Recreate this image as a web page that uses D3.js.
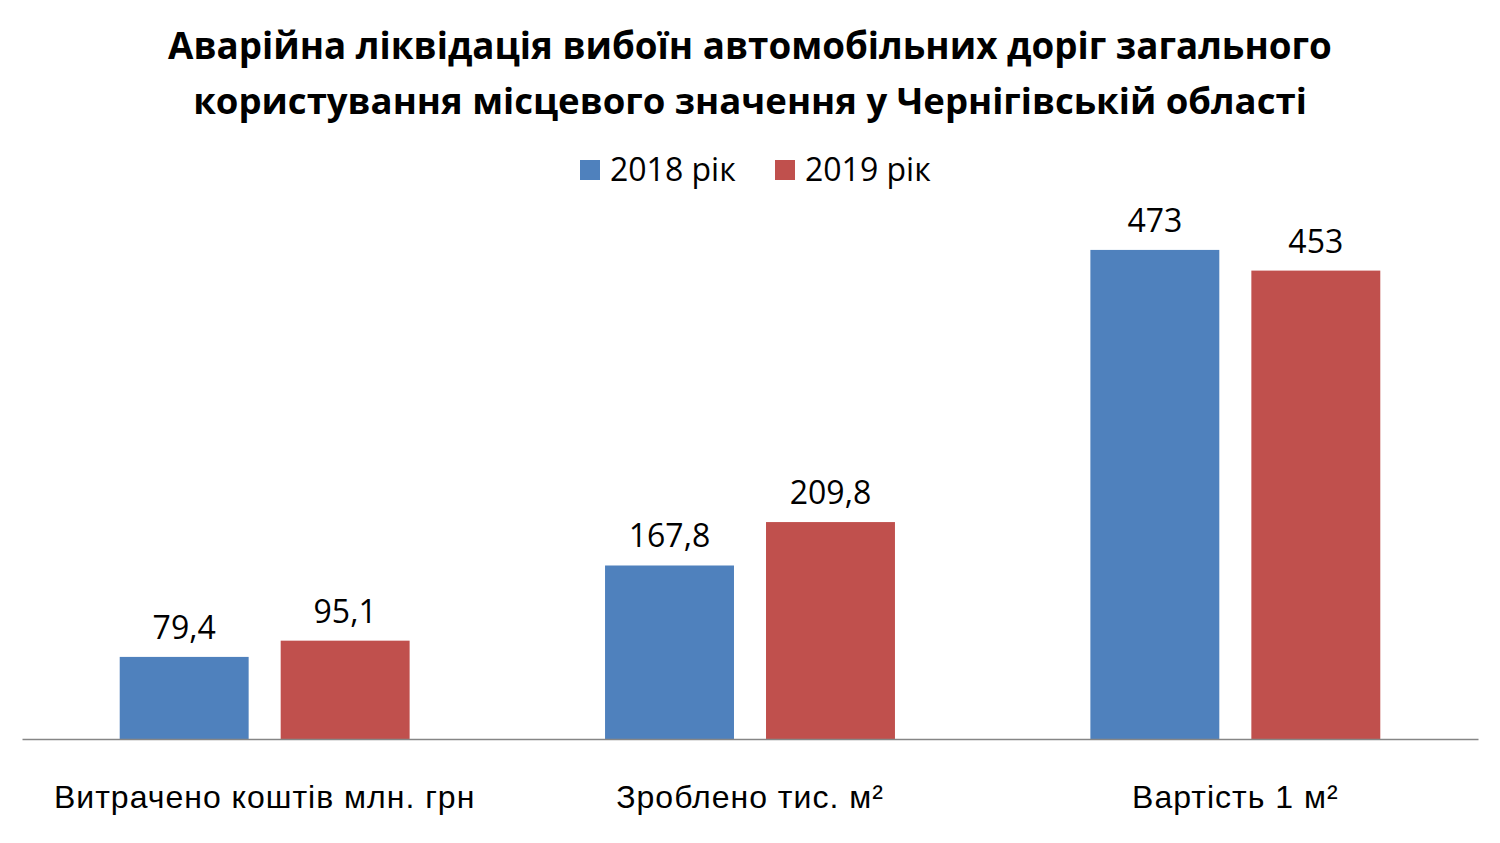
<!DOCTYPE html>
<html>
<head>
<meta charset="utf-8">
<script src="https://cdn.jsdelivr.net/npm/d3@7"></script>
<style>
  html, body { margin: 0; padding: 0; background: #fff; }
  svg { display: block; font-family: 'Open Sans', 'Noto Sans', sans-serif; }
</style>
</head>
<body>
<div id="chart"></div>
<script>
const titleLines = [
  'Аварійна ліквідація вибоїн автомобільних доріг загального',
  'користування місцевого значення у Чернігівській області'
]
const categories = ['Витрачено коштів млн. грн', 'Зроблено тис. м²', 'Вартість 1 м²']
const seriesNames = ['2018 рік', '2019 рік']
const values2018 = [79.4, 167.8, 473]
const values2019 = [95.1, 209.8, 453]
const colors = ['#4F81BD', '#C0504D']

const width = 1500
const height = 843
const margin = { top: 222, bottom: 104, left: 22, right: 22 }
const font = "'Open Sans', 'Noto Sans', sans-serif"

const svg = d3.select('#chart')
  .append('svg')
  .attr('width', width)
  .attr('height', height)
  .attr('viewBox', [0, 0, width, height].join(' '))

// fit a text node to a target width by adjusting its font size
const fitWidth = (sel, target) => {
  const node = sel.node()
  const size = parseFloat(sel.attr('font-size'))
  const w = node.getComputedTextLength()
  sel.attr('font-size', size * target / w)
}

// title
const title = svg.append('g').attr('class', 'title')
title.selectAll('text')
  .data(titleLines)
  .join('text')
  .attr('x', 750)
  .attr('y', (d, i) => 59 + i * 55)
  .attr('text-anchor', 'middle')
  .attr('font-weight', 'bold')
  .attr('font-size', 34)
  .attr('fill', '#000')
  .text(d => d)
  .each(function (d, i) { fitWidth(d3.select(this), i === 0 ? 1164 : 1114) })

const data = categories.map((c, i) => ({ category: c, values: [values2018[i], values2019[i]] }))

// X
const x0 = d3.scaleBand()
  .domain(categories)
  .range([margin.left, width - margin.right])

const x1 = d3.scaleBand()
  .domain(seriesNames)
  .range([0, x0.bandwidth()])
  .paddingInner(0.199)
  .paddingOuter(0.607)

// Y
const y = d3.scaleLinear()
  .domain([0, 500])
  .range([height - margin.bottom, margin.top])

// legend
const legendX = [580, 775]
const legend = svg.append('g').attr('class', 'legend')
  .selectAll('g')
  .data(seriesNames)
  .join('g')
  .attr('transform', (d, i) => `translate(${legendX[i]},160)`)
legend.append('rect')
  .attr('width', 20)
  .attr('height', 20)
  .attr('fill', (d, i) => colors[i])
legend.append('text')
  .attr('x', 30)
  .attr('y', 21)
  .attr('font-size', 32)
  .attr('fill', '#000')
  .text(d => d)

// bars
const group = svg.append('g').attr('class', 'bars')
  .selectAll('g')
  .data(data)
  .join('g')
  .attr('transform', d => `translate(${x0(d.category)},0)`)

const items = d => d.values.map((v, i) => ({ name: seriesNames[i], value: v, i }))

group.selectAll('rect')
  .data(items)
  .join('rect')
  .attr('x', d => x1(d.name))
  .attr('y', d => y(d.value))
  .attr('width', x1.bandwidth())
  .attr('height', d => y(0) - y(d.value))
  .attr('fill', d => colors[d.i])

const fmt = v => String(v).replace('.', ',')
group.selectAll('text.value')
  .data(items)
  .join('text')
  .attr('class', 'value')
  .attr('x', d => x1(d.name) + x1.bandwidth() / 2)
  .attr('y', d => y(d.value) - 18)
  .attr('text-anchor', 'middle')
  .attr('font-size', 32)
  .attr('fill', '#000')
  .text(d => fmt(d.value))

// axis
const xAxis = g => g
  .attr('transform', `translate(0,${y(0)})`)
  .attr('font-family', font)
  .call(d3.axisBottom(x0).tickSize(0).tickPadding(46))
  .call(g => g.select('.domain').attr('stroke', '#868686').attr('stroke-width', 1.3))
  .call(g => g.selectAll('.tick text')
    .attr('font-size', 32)
    .attr('letter-spacing', 1)
    .attr('fill', '#000'))

svg.append('g').attr('class', 'x axis').call(xAxis)
</script>
</body>
</html>
